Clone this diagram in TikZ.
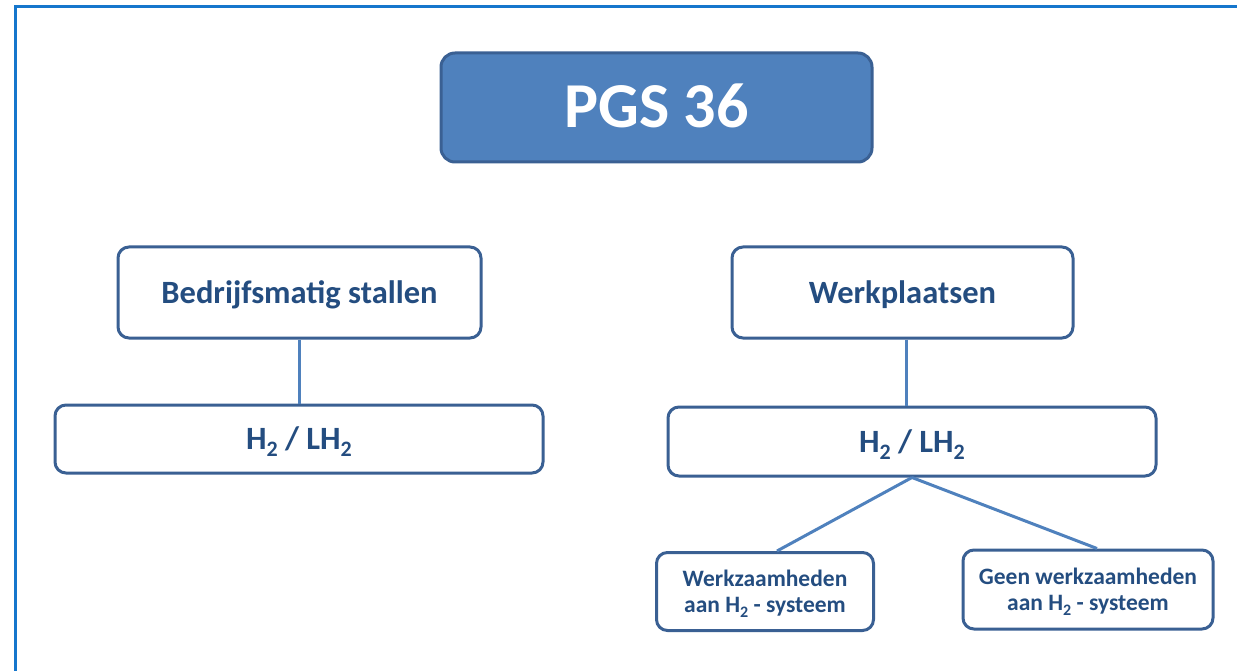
\documentclass[tikz,border=0pt]{standalone}
\usepackage{fontspec}
\setmainfont{Carlito}
\definecolor{frameblue}{HTML}{1576CC}
\definecolor{boxline}{HTML}{3A6093}
\definecolor{boxfill}{HTML}{4F81BD}
\definecolor{linkblue}{HTML}{4F81BD}
\definecolor{textblue}{HTML}{244D80}
% lowered subscript: #1 = font size, #2 = drop below the baseline
\newcommand{\lowsub}[3]{\raisebox{-#2}{\fontsize{#1}{#1}\selectfont #3}}
\newcommand{\Htwo}{H\lowsub{22pt}{7pt}{2}}
\newcommand{\Htwosmall}{H\lowsub{16pt}{5pt}{2}}
\tikzset{
  box/.style={draw=boxline, line width=3pt, rounded corners=11pt, fill=white,
    inner sep=0pt, text=textblue, text height=21pt, text depth=0pt,
    font=\bfseries\fontsize{32.5}{38}\selectfont},
  titlebox/.style={box, fill=boxfill, text=white, rounded corners=14pt,
    text height=41pt, font=\bfseries\fontsize{64}{70}\selectfont},
  smallbox/.style={draw=boxline, line width=3pt, rounded corners=11pt, fill=white,
    inner sep=0pt, text=textblue, align=center, text depth=0pt,
    font=\bfseries\fontsize{23.5}{26}\selectfont},
  link/.style={draw=linkblue, line width=3pt}
}
\begin{document}
\begin{tikzpicture}[x=1pt, y=-1pt]
  \useasboundingbox (0,0) rectangle (1237,671);
  % outer frame
  \draw[frameblue, line width=3pt] (15,671) -- (15,7) -- (1237,7);

  % boxes
  \node[titlebox, minimum width=431pt, minimum height=109pt] (pgs) at (656.5,107.5) {PGS 36};
  \node[box, minimum width=363pt, minimum height=91pt] (bed) at (299.5,292.5) {Bedrijfsmatig stallen};
  \node[box, minimum width=341pt, minimum height=91pt] (werk) at (902.5,292.5) {Werkplaatsen};
  \node[box, minimum width=488pt, minimum height=68pt] (h2l) at (299,439) {\Htwo{} / L\Htwo};
  \node[box, minimum width=488pt, minimum height=69pt] (h2r) at (912,441.5) {\Htwo{} / L\Htwo};
  \node[smallbox, minimum width=217pt, minimum height=78pt] (wz) at (765,591.5)
    {Werkzaamheden\\aan \Htwosmall{} - systeem};
  \node[smallbox, minimum width=250pt, minimum height=79pt] (gw) at (1088,589.5)
    {Geen werkzaamheden\\aan \Htwosmall{} - systeem};

  % connectors
  \draw[link] (bed.south) -- (bed.south |- h2l.north);
  \draw[link] ([xshift=3.5pt]werk.south) -- ([xshift=3.5pt]werk.south |- h2r.north);
  \draw[link] (h2r.south) -- ([xshift=12pt]wz.north);
  \draw[link] (h2r.south) -- ([xshift=9pt]gw.north);
\end{tikzpicture}
\end{document}
